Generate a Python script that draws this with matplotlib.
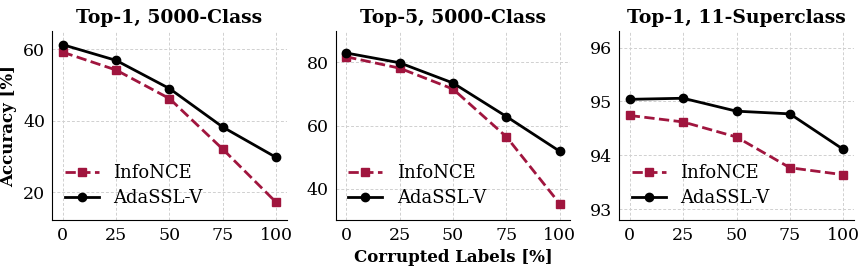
import matplotlib.pyplot as plt

corrupted = [0, 25, 50, 75, 100]

titles = ['Top-1, 5000-Class', 'Top-5, 5000-Class', 'Top-1, 11-Superclass']

infonce_top1 = [59.2, 54.2, 46.2, 32.0, 17.1]
adassl_top1 = [61.3, 56.9, 49.0, 38.2, 29.7]

infonce_top5 = [81.8, 78.2, 71.6, 56.5, 35.3]
adassl_top5 = [83.0, 79.9, 73.5, 62.9, 51.9]

infonce_super = [94.74, 94.62, 94.34, 93.77, 93.64]
adassl_super = [95.04, 95.06, 94.82, 94.77, 94.11]

ylims = [(12.2, 65.0), (30.2, 89.8), (92.8, 96.3)]
yticks = [[20, 40, 60], [40, 60, 80], [93, 94, 95, 96]]

plt.rcParams['font.family'] = 'DejaVu Serif'

fig = plt.figure(figsize=(8.67, 2.76), dpi=100)
lefts = [0.060, 0.387, 0.714]
series = [(infonce_top1, adassl_top1), (infonce_top5, adassl_top5), (infonce_super, adassl_super)]

for i, (info, ada) in enumerate(series):
    ax = fig.add_axes([lefts[i], 0.203, 0.271, 0.683])
    ax.plot(corrupted, info, marker='s', color='#A0153E', linestyle='--', linewidth=2,
            markersize=6, label='InfoNCE')
    ax.plot(corrupted, ada, marker='o', color='black', linewidth=2,
            markersize=6, label='AdaSSL-V')
    ax.set_title(titles[i], fontsize=13.5, fontweight='bold')
    ax.set_xlim(-5, 105)
    ax.set_ylim(*ylims[i])
    ax.set_xticks(corrupted)
    ax.set_yticks(yticks[i])
    ax.tick_params(length=0, labelsize=12.5, pad=5)
    ax.grid(True, linestyle=(0, (3, 2)), color='#d0d0d0', linewidth=0.7)
    ax.spines['top'].set_visible(False)
    ax.spines['right'].set_visible(False)
    ax.legend(loc='lower left', frameon=False, fontsize=13, handlelength=1.9,
              labelspacing=0.4, borderaxespad=0.3)
    if i == 0:
        ax.set_ylabel('Accuracy [%]', fontsize=12, fontweight='bold')
    if i == 1:
        ax.set_xlabel('Corrupted Labels [%]', fontsize=12, fontweight='bold', labelpad=4)

plt.savefig('out.png', dpi=100)
